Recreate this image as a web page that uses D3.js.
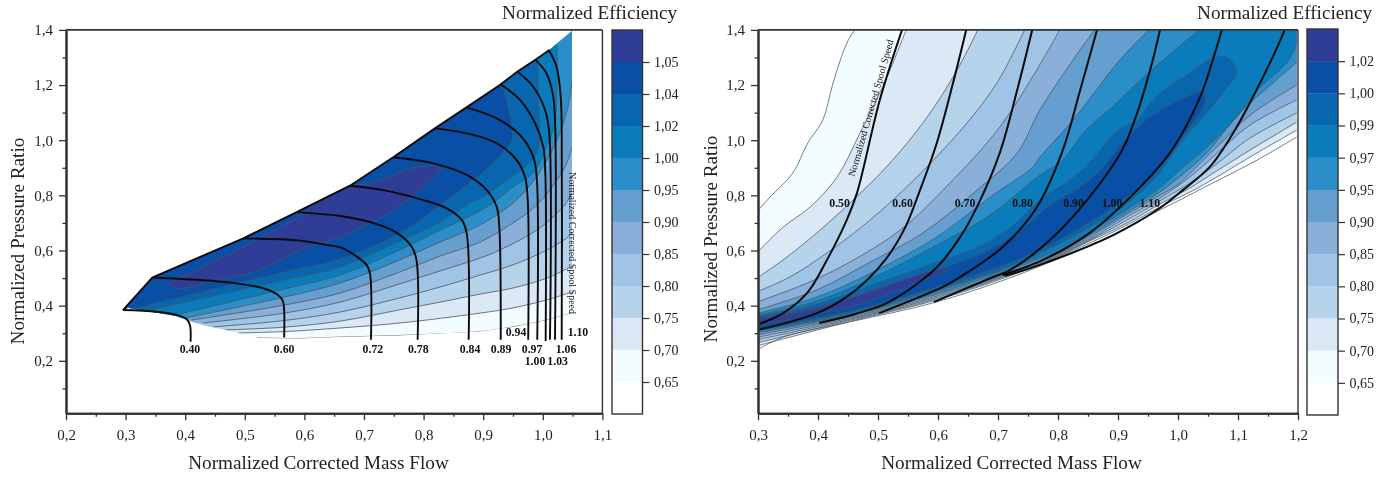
<!DOCTYPE html>
<html><head><meta charset="utf-8">
<script src="https://cdn.jsdelivr.net/npm/d3@7"></script>
<style>html,body{margin:0;background:#fff}svg{display:block;font-family:"Liberation Serif",serif;filter:blur(.35px)}</style>
</head><body><svg id="c" width="1400" height="479"></svg>
<script>
// ---------- shared ----------
const bandColors=["#2f3d96","#0a4fa6","#0866ae","#0a7cbc","#2c8ec8","#659fd0","#8ab0da","#a0c4e6","#b5d3ea","#dbe8f5","#f3fcfe","#ffffff"];
const yTicks=[0.2,0.4,0.6,0.8,1.0,1.2,1.4], yMinor=[0.1,0.3,0.5,0.7,0.9,1.1,1.3];
const yDomain=[0.01,1.4];

// ---------- left chart ----------
const xTicksL=[0.2,0.3,0.4,0.5,0.6,0.7,0.8,0.9,1.0,1.1], xMinorL=[0.25,0.35,0.45,0.55,0.65,0.75,0.85,0.95,1.05];
const cbarL=["1,05","1,04","1,02","1,00","0,95","0,90","0,85","0,80","0,75","0,70","0,65"];
const surgeL=[[.2956,.384],[.3455,.503],[.4975,.644],[.587,.739],[.6765,.835],[.749,.938],[.819,1.043],[.872,1.119],[.928,1.2],[.957,1.248],[.987,1.291],[1.011,1.327],[1.049,1.396]];
const bottomL=[[1.049,.373],[1.007,.348],[.95,.323],[.895,.306],[.76,.292],[.66,.286],[.593,.281],[.52,.283],[.489,.301],[.467,.312],[.43,.33],[.408,.344],[.383,.363],[.336,.381],[.304,.392]];
const L65=[[.52,.283],[.593,.281],[.66,.286],[.76,.292],[.895,.306],[.95,.323],[1.007,.348],[1.049,.373]];
const L70=[[.489,.301],[.566,.306],[.66,.319],[.76,.337],[.895,.373],[.95,.392],[1.007,.421],[1.049,.45]];
const L75=[[.467,.312],[.566,.322],[.66,.344],[.76,.385],[.828,.413],[.895,.442],[.95,.464],[1.007,.5],[1.046,.54],[1.049,.544]];
const L80=[[.447,.323],[.566,.346],[.66,.377],[.76,.428],[.828,.468],[.895,.511],[.95,.548],[1.007,.602],[1.042,.649],[1.049,.667]];
const L85=[[.43,.337],[.566,.373],[.66,.413],[.76,.479],[.828,.526],[.895,.573],[.928,.602],[.99,.674],[1.034,.758],[1.049,.809]];
const L90=[[.411,.348],[.566,.402],[.66,.446],[.76,.522],[.828,.58],[.895,.631],[.95,.7],[.99,.765],[1.024,.856],[1.041,.921],[1.049,.975]];
const L95=[[.4,.355],[.566,.431],[.66,.482],[.76,.566],[.828,.631],[.895,.693],[.95,.772],[.982,.845],[1.007,.928],[1.026,1.012],[1.041,1.11],[1.049,1.207]];
const L100=[[.383,.366],[.566,.46],[.66,.511],[.76,.602],[.828,.674],[.878,.725],[.916,.772],[.95,.83],[.984,.881],[1.004,.964],[1.02,1.062],[1.024,1.244],[1.024,1.345]];
const L102=[[.336,.381],[.566,.493],[.66,.54],[.76,.634],[.828,.703],[.878,.772],[.9,.794],[.94,.856],[.97,.903],[.992,.964],[.992,1.157],[.992,1.255],[.99,1.287]];
const L104=[[.319,.392],[.566,.522],[.66,.569],[.76,.663],[.828,.765],[.878,.848],[.9,.885],[.932,.954],[.948,1.001],[.948,1.062],[.94,1.135],[.932,1.2]];
const L105=[[.374,.482],[.413,.522],[.497,.613],[.581,.711],[.66,.827],[.715,.845],[.789,.903],[.828,.899],[.794,.819],[.732,.722],[.693,.682],[.66,.649],[.593,.602],[.525,.529],[.458,.493],[.383,.464]];
const S040=[[.2956,.384],[.352,.378],[.386,.366],[.4025,.351],[.408,.33],[.409,.269]];
const S060=[[.3465,.501],[.425,.493],[.486,.481],[.531,.463],[.5535,.442],[.5636,.418],[.566,.384],[.566,.285]];
const S072=[[.4975,.644],[.5926,.636],[.6374,.62],[.6597,.612],[.6878,.578],[.7046,.547],[.71,.517],[.7117,.276]];
const S078=[[.587,.739],[.6597,.725],[.715,.7],[.755,.664],[.78,.614],[.788,.566],[.79,.276]];
const S084=[[.6765,.835],[.7324,.819],[.7995,.783],[.8387,.753],[.864,.711],[.8723,.662],[.8756,.276]];
const S089=[[.749,.938],[.8163,.916],[.8723,.874],[.9059,.819],[.9226,.759],[.927,.686],[.9294,.276]];
const S094=[[.819,1.043],[.8723,1.025],[.9226,.989],[.9562,.928],[.97,.868],[.9747,.783],[.9755,.276]];
const S097=[[.872,1.119],[.9226,1.079],[.9617,1.019],[.984,.94],[.9897,.868],[.9907,.276]];
const S100=[[.931,1.2],[.9617,1.146],[.987,1.062],[1.0008,.976],[1.0042,.881],[1.0048,.272]];
const S103=[[.959,1.246],[.984,1.194],[1.0037,1.11],[1.0109,1.026],[1.012,.276]];
const S106=[[.988,1.291],[1.006,1.243],[1.0166,1.17],[1.0205,1.073],[1.0205,.276]];
const S110=[[1.01,1.327],[1.023,1.267],[1.03,1.158],[1.0317,1.049],[1.0317,.276]];
const labelsL=["0.40","0.60","0.72","0.78","0.84","0.89","0.94","0.97","1.00","1.03","1.06","1.10"];
const labelXL=[.408,.566,.715,.791,.878,.93,.955,.982,.987,1.025,1.039,1.059];
const labelYL=[.243,.243,.243,.243,.243,.243,.306,.243,.199,.199,.243,.306];

// ---------- right chart ----------
const xTicksR=[0.3,0.4,0.5,0.6,0.7,0.8,0.9,1.0,1.1,1.2], xMinorR=[0.35,0.45,0.55,0.65,0.75,0.85,0.95,1.05,1.15];
const cbarR=["1,02","1,00","0,99","0,97","0,95","0,90","0,85","0,80","0,75","0,70","0,65"];
const U65=[[.298,.74],[.32,.794],[.358,.881],[.383,.99],[.408,1.073],[.425,1.207],[.448,1.352],[.462,1.403]];
const U70=[[.298,.591],[.342,.685],[.387,.758],[.432,.867],[.47,1.026],[.515,1.229],[.545,1.389],[.548,1.403]];
const U75=[[.298,.5],[.342,.566],[.398,.664],[.453,.772],[.52,.917],[.582,1.084],[.632,1.255],[.667,1.403]];
const U80=[[.298,.45],[.353,.504],[.415,.591],[.487,.711],[.565,.867],[.648,1.062],[.698,1.207],[.745,1.403]];
const U85=[[.298,.413],[.382,.482],[.453,.558],[.537,.674],[.62,.845],[.703,1.048],[.787,1.338],[.803,1.403]];
const U90=[[.298,.384],[.398,.457],[.487,.558],[.575,.664],[.665,.819],[.732,.954],[.77,1.11],[.825,1.291],[.862,1.403]];
const U95=[[.298,.372],[.398,.431],[.498,.529],[.598,.649],[.687,.794],[.758,.903],[.77,.939],[.825,1.073],[.903,1.291],[.953,1.403]];
const U97=[[.298,.366],[.398,.417],[.498,.508],[.598,.62],[.687,.729],[.77,.874],[.808,.928],[.842,1.026],[.898,1.135],[.937,1.218],[.995,1.327],[1.037,1.403]];
const Lo65=[[.298,.239],[.342,.286],[.453,.341],[.592,.41],[.715,.497],[.787,.558],[.825,.591],[.882,.645],[.937,.711],[1.003,.783],[1.058,.845],[1.132,.928],[1.198,1.012]];
const Lo70=[[.298,.254],[.463,.348],[.592,.417],[.715,.504],[.798,.575],[.853,.627],[.912,.689],[.97,.758],[1.02,.812],[1.062,.863],[1.12,.939],[1.198,1.037]];
const Lo75=[[.298,.265],[.463,.352],[.592,.421],[.715,.508],[.798,.577],[.853,.635],[.912,.696],[.97,.769],[1.02,.827],[1.062,.885],[1.12,.964],[1.198,1.066]];
const Lo80=[[.298,.276],[.463,.355],[.592,.426],[.715,.511],[.798,.58],[.853,.638],[.912,.707],[.97,.78],[1.02,.845],[1.062,.91],[1.12,1.008],[1.198,1.099]];
const Lo85=[[.298,.285],[.463,.359],[.592,.431],[.715,.515],[.798,.584],[.853,.642],[.912,.718],[.97,.79],[1.02,.867],[1.062,.946],[1.12,1.055],[1.198,1.146]];
const Lo90=[[.298,.294],[.463,.364],[.592,.437],[.715,.518],[.798,.587],[.853,.649],[.908,.722],[.965,.794],[1.003,.845],[1.037,.917],[1.082,1.012],[1.125,1.099],[1.198,1.2]];
const Lo95=[[.298,.301],[.463,.37],[.592,.442],[.715,.526],[.798,.595],[.853,.656],[.908,.729],[.965,.805],[1.003,.867],[1.048,.954],[1.103,1.099],[1.158,1.207],[1.198,1.283]];
const Lo97=[[.298,.308],[.463,.373],[.592,.45],[.715,.533],[.798,.602],[.853,.667],[.908,.74],[.965,.819],[1.003,.892],[1.048,.975],[1.098,1.084],[1.132,1.182],[1.182,1.283],[1.198,1.352]];
const R99=[[.298,.361],[.398,.406],[.508,.489],[.608,.566],[.675,.62],[.732,.703],[.77,.783],[.825,.863],[.857,.928],[.895,1.026],[.937,1.084],[.958,1.146],[1.032,1.262],[1.058,1.298],[1.083,1.298],[1.098,1.247],[1.082,1.193],[1.042,1.084],[1.008,1.001],[.965,.87],[.908,.758],[.853,.685],[.798,.62],[.715,.54],[.592,.457],[.463,.379],[.298,.312]];
const R100=[[.298,.355],[.398,.395],[.508,.468],[.608,.537],[.675,.591],[.732,.664],[.787,.765],[.842,.838],[.878,.91],[.908,.99],[.953,1.084],[1.003,1.146],[1.037,1.175],[1.045,1.164],[1.045,1.135],[1.032,1.084],[.998,.99],[.97,.903],[.937,.83],[.892,.758],[.853,.703],[.803,.638],[.77,.602],[.715,.551],[.592,.464],[.463,.384],[.298,.315]];
const R102=[[.297,.348],[.408,.395],[.48,.446],[.597,.529],[.615,.526],[.597,.511],[.463,.402],[.297,.33]];
const SA=[[.298,.33],[.342,.373],[.382,.446],[.415,.566],[.448,.711],[.465,.809],[.503,1.146],[.54,1.4]];
const SB=[[.298,.312],[.353,.341],[.408,.382],[.463,.457],[.512,.566],[.545,.682],[.57,.819],[.598,.99],[.625,1.207],[.647,1.4]];
const SC=[[.402,.337],[.462,.37],[.518,.413],[.597,.537],[.637,.649],[.665,.758],[.703,.954],[.732,1.182],[.757,1.4]];
const SD=[[.502,.373],[.608,.468],[.637,.504],[.708,.613],[.765,.758],[.808,.964],[.837,1.182],[.865,1.4]];
const SE=[[.593,.413],[.692,.504],[.72,.529],[.792,.649],[.858,.809],[.907,.964],[.932,1.099],[.958,1.291],[.97,1.4]];
const SF=[[.708,.511],[.775,.566],[.853,.664],[.937,.83],[.99,.964],[1.037,1.157],[1.058,1.291],[1.073,1.4]];
const SG=[[.712,.508],[.77,.548],[.892,.656],[.97,.754],[1.008,.819],[1.053,.903],[1.092,1.026],[1.125,1.157],[1.158,1.302],[1.178,1.4]];
const labelsR=["0.50","0.60","0.70","0.80","0.90","1.00","1.10"];
const labelXR=[.436,.541,.645,.741,.826,.89,.953];
const labelYR=.772;

// ---------- drawing ----------
const svg=d3.select("#c");
const comma=d=>d3.format(".1f")(d).replace(".",",");
const font='"Liberation Serif",serif';
const axisColor="#333", contour="#4a5560";

function frame(x,xT,xM,y,x0,x1,yT0,yT1,titleX,yTitleX,yTitleY){
  const g=svg.append("g");
  const ax=(sel,gen)=>{sel.call(gen);sel.selectAll("path").attr("stroke",axisColor).attr("stroke-width",2);sel.selectAll("line").attr("stroke",axisColor).attr("stroke-width",1.3);sel.selectAll("text").attr("font-family",font).attr("font-size",15).attr("fill","#222");return sel;};
  ax(g.append("g").attr("transform",`translate(0,${yT0})`),d3.axisBottom(x).tickValues(xM).tickSize(3.5).tickFormat("").tickSizeOuter(0));
  ax(g.append("g").attr("transform",`translate(0,${yT0})`),d3.axisBottom(x).tickValues(xT).tickSize(7).tickPadding(9).tickFormat(comma).tickSizeOuter(0));
  ax(g.append("g").attr("transform",`translate(${x0},0)`),d3.axisLeft(y).tickValues(yMinor).tickSize(3.5).tickFormat("").tickSizeOuter(0));
  ax(g.append("g").attr("transform",`translate(${x0},0)`),d3.axisLeft(y).tickValues(yTicks).tickSize(7).tickPadding(6).tickFormat(comma).tickSizeOuter(0));
  g.append("line").attr("x1",x0).attr("x2",x1).attr("y1",yT1).attr("y2",yT1).attr("stroke",axisColor).attr("stroke-width",1.6);
  g.append("line").attr("x1",x1).attr("x2",x1).attr("y1",yT1).attr("y2",yT0).attr("stroke",axisColor).attr("stroke-width",1.4);
  g.append("text").attr("x",titleX).attr("y",469).attr("text-anchor","middle").attr("font-size",19.2).attr("fill","#222").text("Normalized Corrected Mass Flow");
  g.append("text").attr("transform",`translate(${yTitleX},${yTitleY}) rotate(-90)`).attr("text-anchor","middle").attr("font-size",19.2).attr("fill","#222").text("Normalized Pressure Ratio");
}
function colorbar(labels,x0,x1,yTop,yBot,labelRight){
  const c=d3.scaleLinear().domain([0,bandColors.length]).range([yTop,yBot]);
  const g=svg.append("g");
  g.selectAll("rect.b").data(bandColors).join("rect").attr("x",x0).attr("width",x1-x0).attr("y",(d,i)=>c(i)).attr("height",(d,i)=>c(i+1)-c(i)+.3).attr("fill",d=>d);
  g.append("rect").attr("x",x0).attr("y",yTop).attr("width",x1-x0).attr("height",yBot-yTop).attr("fill","none").attr("stroke",axisColor).attr("stroke-width",1.4);
  const a=g.append("g").attr("transform",`translate(${x1},0)`).call(d3.axisRight(c).tickValues(labels.map((d,i)=>i+1)).tickSize(7).tickPadding(4.5).tickFormat(i=>labels[i-1]).tickSizeOuter(0));
  a.select("path").remove();a.selectAll("line").attr("stroke",axisColor).attr("stroke-width",1.2);
  a.selectAll("text").attr("font-family",font).attr("font-size",14).attr("fill","#222");
  svg.append("text").attr("x",labelRight).attr("y",19).attr("text-anchor","end").attr("font-size",19.2).attr("fill","#222").text("Normalized Efficiency");
}

const catm=d3.curveCatmullRom.alpha(.5);
function piece(line,pts){return line(pts).replace(/^M/,"L");}

// ---- left chart ----
const xL=d3.scaleLinear().domain([0.2,1.1]).range([66,602.4]);
const yS=d3.scaleLinear().domain(yDomain).range([413.2,29.9]);
const lineL=d3.line().x(d=>xL(d[0])).y(d=>yS(d[1])).curve(catm);
const straightL=d3.line().x(d=>xL(d[0])).y(d=>yS(d[1]));
svg.append("defs").append("clipPath").attr("id","envL").append("path").attr("d",straightL(surgeL.concat(bottomL))+"Z");
const gL=svg.append("g").attr("clip-path","url(#envL)");
const levelsL=[[L65,10],[L70,9],[L75,8],[L80,7],[L85,6],[L90,5],[L95,4],[L100,3],[L102,2],[L104,1]];
const lxMin=0.2, lyMax=1.5;
levelsL.forEach(([ln,ci])=>{
  const last=ln[ln.length-1],first=ln[0];
  const closing=[[last[0],lyMax],[lxMin,lyMax],[lxMin,first[1]]];
  gL.append("path").attr("fill",bandColors[ci]).attr("d",lineL(ln)+straightL(closing).replace(/^M/,"L")+"Z");
});
levelsL.forEach(([ln])=>gL.append("path").attr("fill","none").attr("stroke",contour).attr("stroke-width",.8).attr("d",lineL(ln)));
gL.append("path").attr("fill",bandColors[0]).attr("stroke",contour).attr("stroke-width",.8)
  .attr("d",d3.line().x(d=>xL(d[0])).y(d=>yS(d[1])).curve(d3.curveCatmullRomClosed.alpha(.5))(L105));
[S040,S060,S072,S078,S084,S089,S094,S097,S100,S103,S106,S110].forEach(s=>
  svg.append("path").attr("fill","none").attr("stroke","#0a0a0a").attr("stroke-width",1.9).attr("d",lineL(s)));
svg.append("path").attr("fill","none").attr("stroke","#0a0a0a").attr("stroke-width",1.9).attr("stroke-linejoin","round").attr("d",straightL(surgeL.slice(0,-1)));
labelsL.forEach((t,i)=>svg.append("text").attr("x",xL(labelXL[i])).attr("y",yS(labelYL[i])).attr("dy",".35em").attr("text-anchor","middle").attr("font-weight","bold").attr("font-size",11.8).attr("fill","#111").text(t));
svg.append("text").attr("transform",`translate(${xL(1.05)},${yS(.627)}) rotate(90)`).attr("text-anchor","middle").attr("dy",".35em").attr("font-size",10).attr("fill","#111").text("Normalized Corrected Spool Speed");
frame(xL,xTicksL,xMinorL,yS,66,602.4,413.2,29.9,318.5,24,241);
colorbar(cbarL,612,642.5,30,414,677);

// ---- right chart ----
const xR=d3.scaleLinear().domain([0.3,1.2]).range([758,1298]);
const lineR=d3.line().x(d=>xR(d[0])).y(d=>yS(d[1])).curve(catm);
svg.append("defs").append("clipPath").attr("id","plotR").append("rect").attr("x",xR(.3)).attr("y",yS(1.4)).attr("width",xR(1.198)-xR(.3)).attr("height",yS(yDomain[0])-yS(1.4));
const gR=svg.append("g").attr("clip-path","url(#plotR)");
const levelsR=[[U65,Lo65,10],[U70,Lo70,9],[U75,Lo75,8],[U80,Lo80,7],[U85,Lo85,6],[U90,Lo90,5],[U95,Lo95,4],[U97,Lo97,3]];
const pad=d3.line().x(d=>xR(d[0])).y(d=>yS(d[1]));
levelsR.forEach(([u,lo,ci])=>{
  const corner=[[u[u.length-1][0],1.45],[1.25,1.45],[1.25,lo[lo.length-1][1]]];
  gR.append("path").attr("fill",bandColors[ci]).attr("d",lineR(u)+pad(corner).replace(/^M/,"L")+piece(lineR,lo.slice().reverse())+"Z");
});
levelsR.forEach(([u,lo])=>{gR.append("path").attr("fill","none").attr("stroke",contour).attr("stroke-width",.75).attr("d",lineR(u));gR.append("path").attr("fill","none").attr("stroke",contour).attr("stroke-width",.75).attr("d",lineR(lo));});
[[R99,2],[R100,1],[R102,0]].forEach(([ring,ci])=>
  gR.append("path").attr("fill",bandColors[ci]).attr("stroke",contour).attr("stroke-width",.75).attr("d",lineR(ring)+"Z"));
const gS=svg.append("g").attr("clip-path","url(#plotR)");
[SA,SB,SC,SD,SE,SF,SG].forEach(s=>gS.append("path").attr("fill","none").attr("stroke","#0a0a0a").attr("stroke-width",2).attr("d",lineR(s)));
labelsR.forEach((t,i)=>svg.append("text").attr("x",xR(labelXR[i])).attr("y",yS(labelYR)).attr("dy",".35em").attr("text-anchor","middle").attr("font-weight","bold").attr("font-size",11.8).attr("fill","#111").text(t));
svg.append("text").attr("transform",`translate(${xR(.488)},${yS(1.117)}) rotate(-74)`).attr("text-anchor","middle").attr("dy",".35em").attr("font-size",10).attr("fill","#111").text("Normalized Corrected Spool Speed");
frame(xR,xTicksR,xMinorR,yS,758,1298,413.2,29.9,1011.5,717,239);
colorbar(cbarR,1307,1338,29,415,1372);
</script></body></html>
